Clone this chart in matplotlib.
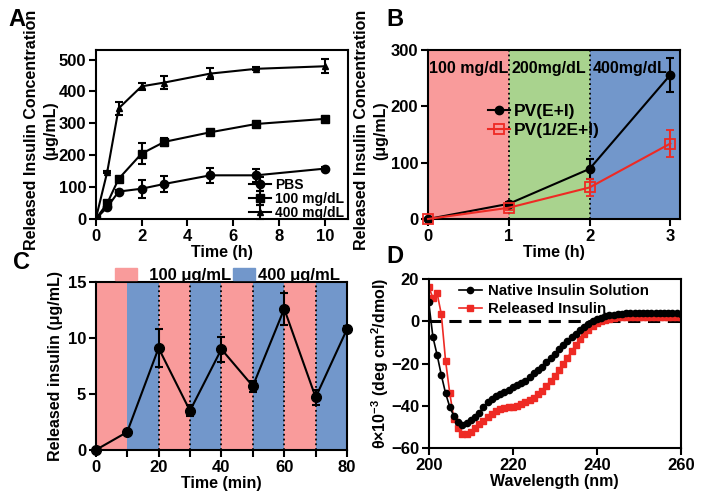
import numpy as np
import matplotlib
matplotlib.use('Agg')
import matplotlib.pyplot as plt
from matplotlib.patches import Patch
from matplotlib.lines import Line2D

plt.rcParams['font.family'] = ['Liberation Sans', 'DejaVu Sans']
plt.rcParams['font.weight'] = 'bold'
plt.rcParams['axes.labelweight'] = 'bold'
plt.rcParams['axes.linewidth'] = 1.5
plt.rcParams['xtick.major.width'] = 1.5
plt.rcParams['ytick.major.width'] = 1.5
plt.rcParams['xtick.minor.width'] = 1.5
plt.rcParams['xtick.major.size'] = 5
plt.rcParams['ytick.major.size'] = 5
plt.rcParams['xtick.minor.size'] = 5
plt.rcParams['xtick.labelsize'] = 12
plt.rcParams['ytick.labelsize'] = 12
plt.rcParams['mathtext.fontset'] = 'custom'
plt.rcParams['mathtext.rm'] = 'Liberation Sans:bold'
plt.rcParams['mathtext.default'] = 'rm'

# ── Panel A data ──────────────────────────────────────────────────────────────
t_a = [0, 0.5, 1, 2, 3, 5, 7, 10]
pbs = [0, 37, 86, 95, 110, 137, 137, 158]
pbs_err = [0, 4, 4, 28, 26, 24, 21, 4]
g100 = [0, 49, 126, 205, 242, 272, 298, 314]
g100_err = [0, 4, 5, 32, 12, 5, 5, 5]
g400 = [0, 147, 347, 416, 428, 456, 471, 479]
g400_err = [0, 4, 21, 12, 21, 17, 5, 22]

# ── Panel B data ──────────────────────────────────────────────────────────────
t_b = [0, 1, 2, 3]
pv_ei = [0, 27, 89, 256]
pv_ei_err = [0, 4, 18, 30]
pv_half = [0, 20, 56, 134]
pv_half_err = [0, 4, 15, 24]
b_regions = ['100 mg/dL', '200mg/dL', '400mg/dL']

# ── Panel C data ──────────────────────────────────────────────────────────────
t_c = [0, 10, 20, 30, 40, 50, 60, 70, 80]
ins_c = [0, 1.6, 9.1, 3.5, 9.0, 5.7, 12.6, 4.7, 10.8]
ins_c_err = [0, 0.1, 1.7, 0.5, 1.1, 0.5, 1.4, 0.7, 0.3]

# ── Panel D data (CD spectra, 200-260 nm) ─────────────────────────────────────
wl = list(range(200, 261))
native = [8.9, -7.5, -16, -25.5, -34, -40.5, -45, -47.5, -49, -48.3,
          -46.8, -45.5, -43.5, -40.5, -38.3, -36.8, -35.5, -34.3, -33.3, -32.3,
          -31.3, -30.3, -29.3, -28.2, -26.5, -24.7, -23.2, -21.5, -19.5, -17.5,
          -15.4, -13.3, -11.2, -9.2, -7.5, -5.8, -4.2, -2.8, -1.2, 0.0,
          1.0, 1.7, 2.3, 2.8, 3.1, 3.4, 3.6, 3.7, 3.8, 3.9,
          4.0, 4.0, 4.0, 4.0, 3.9, 3.9, 3.8, 3.8, 3.7, 3.7, 3.6]
released = [16.3, 11, 13.2, 3.3, -18.6, -34, -46.2, -50.6, -53.5, -53.5,
            -52.2, -50.5, -48.5, -47, -45.3, -43.8, -42.6, -41.7, -41.1, -40.7,
            -40.4, -40, -39.3, -38.3, -37.3, -36.3, -34.5, -32.8, -30.5, -28.3,
            -25.8, -23.2, -20.3, -17.3, -14.2, -11.2, -8.5, -6.0, -4.0, -2.3,
            -1.0, 0.1, 0.8, 1.3, 1.6, 1.9, 2.0, 2.0, 2.1, 2.1,
            2.1, 2.1, 2.1, 2.1, 2.0, 2.0, 2.0, 2.0, 1.9, 1.9, 1.9]

PINK = '#F99B9B'
GREEN = '#A9D38E'
BLUE = '#7297CB'
RED = '#EE2A24'

fig = plt.figure(figsize=(7.04, 5.03), dpi=100)
axA = fig.add_axes([0.136, 0.5646, 0.358, 0.336])
axB = fig.add_axes([0.608, 0.5646, 0.358, 0.336])
axC = fig.add_axes([0.136, 0.1054, 0.357, 0.334])
axD = fig.add_axes([0.609, 0.1093, 0.358, 0.336])

eb = dict(capsize=3, elinewidth=1.5, capthick=1.5, lw=1.5, color='black')

# two-line y labels drawn as separate lines (figure fractions)
def two_line_ylabel(x1, x2, yc):
    fig.text(x1, yc, 'Released Insulin Concentration', rotation=90, fontsize=11.5,
             ha='center', va='center')
    fig.text(x2, yc, '(μg/mL)', rotation=90, fontsize=11.5, ha='center', va='center')

# ── A ─────────────────────────────────────────────────────────────────────────
hA1 = axA.errorbar(t_a, pbs, yerr=pbs_err, marker='o', ms=6, label='PBS', **eb)
hA2 = axA.errorbar(t_a, g100, yerr=g100_err, marker='s', ms=6, label='100 mg/dL', **eb)
hA3 = axA.errorbar(t_a, g400, yerr=g400_err, marker='^', ms=5, label='400 mg/dL', **eb)
axA.set_xlim(0, 11)
axA.set_ylim(0, 530)
axA.set_xticks([0, 2, 4, 6, 8, 10])
axA.set_yticks([0, 100, 200, 300, 400, 500])
axA.set_xlabel('Time (h)', fontsize=11.5, labelpad=1)
two_line_ylabel(0.045, 0.072, 0.741)
axA.legend(handles=[hA1, hA2, hA3], loc='lower right', bbox_to_anchor=(1.02, -0.055),
           frameon=False, fontsize=10, labelspacing=0.0, handlelength=1.6,
           handletextpad=0.3, borderpad=0.1)

# ── B ─────────────────────────────────────────────────────────────────────────
axB.axvspan(0, 1, color=PINK, lw=0, zorder=0)
axB.axvspan(1, 2, color=GREEN, lw=0, zorder=0)
axB.axvspan(2, 3.12, color=BLUE, lw=0, zorder=0)
for xv in [1, 2]:
    axB.axvline(xv, color='black', ls=':', lw=1.3, zorder=1)
for i, lab in enumerate(b_regions):
    axB.text(i + 0.5, 268, lab, ha='center', va='center', fontsize=11.5, zorder=2)
axB.errorbar(t_b, pv_ei, yerr=pv_ei_err, marker='o', ms=6, capsize=3,
             elinewidth=1.5, capthick=1.5, lw=1.5, color='black', zorder=3, clip_on=False)
axB.errorbar(t_b, pv_half, yerr=pv_half_err, marker='s', ms=7, mfc='none',
             mew=1.3, capsize=3, elinewidth=1.5, capthick=1.5, lw=1.5,
             color=RED, zorder=3, clip_on=False)
axB.set_xlim(0, 3.12)
axB.set_ylim(0, 300)
axB.set_xticks([0, 1, 2, 3])
axB.set_yticks([0, 100, 200, 300])
axB.set_xlabel('Time (h)', fontsize=11.5, labelpad=1)
two_line_ylabel(0.513, 0.5415, 0.741)
axB.legend(handles=[Line2D([], [], color='black', marker='o', ms=6, lw=1.5),
                    Line2D([], [], color=RED, marker='s', ms=7, mfc='none',
                           mew=1.3, lw=1.5)],
           labels=['PV(E+I)', 'PV(1/2E+I)'],
           loc='upper left', bbox_to_anchor=(0.195, 0.745),
           frameon=False, fontsize=12.5, labelspacing=0.25, handlelength=1.3,
           handletextpad=0.2, borderpad=0.1)

# ── C ─────────────────────────────────────────────────────────────────────────
for k in range(8):
    axC.axvspan(t_c[k], t_c[k + 1], color=PINK if k % 2 == 0 else BLUE, lw=0, zorder=0)
for xv in t_c[2:-1]:
    axC.axvline(xv, color='black', ls=':', lw=1.3, zorder=1)
axC.errorbar(t_c, ins_c, yerr=ins_c_err, marker='o', ms=7, zorder=3,
             clip_on=False, **eb)
axC.set_xlim(0, 80)
axC.set_ylim(0, 15)
axC.set_xticks([0, 20, 40, 60, 80])
axC.set_xticks([10, 30, 50, 70], minor=True)
axC.set_yticks([0, 5, 10, 15])
axC.set_xlabel('Time (min)', fontsize=11.5, labelpad=1)
axC.set_ylabel('Released insulin (μg/mL)', fontsize=11.5, labelpad=3)
axC.legend(handles=[Patch(color=PINK, label='  100 μg/mL'),
                    Patch(color=BLUE, label='400 μg/mL')],
           loc='lower center', bbox_to_anchor=(0.525, 0.985), ncol=2, frameon=False,
           fontsize=12, handlelength=1.3, handleheight=0.8, handletextpad=0.2,
           columnspacing=0.1, borderpad=0.0, borderaxespad=0.1)

# ── D ─────────────────────────────────────────────────────────────────────────
axD.axhline(0, color='black', ls=(0, (4, 2.5)), lw=2.2, zorder=1)
axD.plot(wl, native, color='black', marker='o', ms=4.5, lw=1.2, zorder=3,
         label='Native Insulin Solution')
axD.plot(wl, released, color=RED, marker='s', ms=4.5, lw=1.2, zorder=2,
         label='Released Insulin')
axD.set_xlim(200, 260)
axD.set_ylim(-60, 20)
axD.set_xticks([200, 220, 240, 260])
axD.set_yticks([-60, -40, -20, 0, 20])
axD.set_xlabel('Wavelength (nm)', fontsize=11.5, labelpad=1)
axD.set_ylabel('θ×10$^{-3}$ (deg cm$^{2}$/dmol)', fontsize=11.5, labelpad=0)
axD.legend(loc='upper left', bbox_to_anchor=(0.085, 1.025), frameon=False,
           fontsize=10.8, labelspacing=0.3, handlelength=1.5, handletextpad=0.4,
           borderpad=0.1)

for ax in [axA, axB, axC, axD]:
    ax.tick_params(which='both', direction='out', pad=2)

fig.text(0.024, 0.961, 'A', fontsize=17, ha='center', va='center')
fig.text(0.561, 0.961, 'B', fontsize=17, ha='center', va='center')
fig.text(0.030, 0.479, 'C', fontsize=17, ha='center', va='center')
fig.text(0.561, 0.491, 'D', fontsize=17, ha='center', va='center')

fig.savefig('out.png', dpi=100)
